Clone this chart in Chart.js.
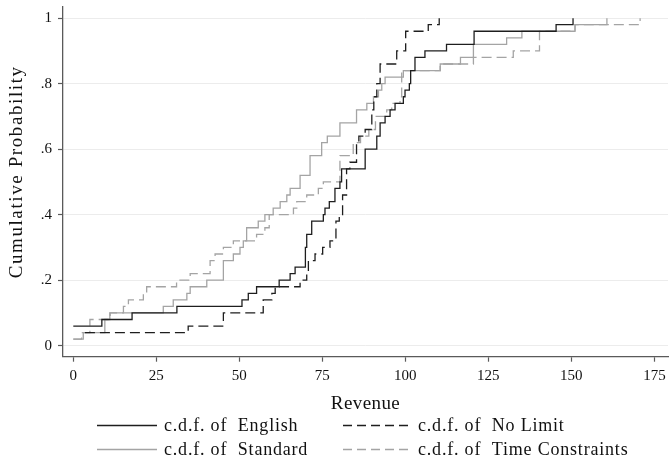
<!DOCTYPE html>
<html>
<head>
<meta charset="utf-8">
<script src="https://cdn.jsdelivr.net/npm/chart.js@4.4.1/dist/chart.umd.min.js"></script>
<style>
  html, body { margin: 0; padding: 0; background: #fff; }
  #wrap { width: 672px; height: 459px; }
</style>
</head>
<body>
<div id="wrap"><canvas id="c" width="672" height="459"></canvas></div>
<script>
// ---- Data (revenue at each jump, cumulative probability after the jump)
const englishX = [0, 8.6, 17.7, 31.2, 50.8, 52.7, 55.2, 62, 65.3, 66.8, 69.9, 70.3, 71.8, 75.3, 75.8, 77.1, 78.8, 80.3, 80.8, 87.9, 91.4, 92.4, 93.9, 95.4, 96.9, 99.4, 99.9, 101.2, 101.6, 102.9, 105.9, 112.4, 120.7, 145.4, 150.5];
const englishY = [0.06, 0.08, 0.10, 0.12, 0.14, 0.16, 0.18, 0.20, 0.22, 0.24, 0.30, 0.34, 0.38, 0.40, 0.42, 0.44, 0.48, 0.50, 0.54, 0.60, 0.64, 0.68, 0.70, 0.72, 0.74, 0.76, 0.78, 0.80, 0.84, 0.88, 0.90, 0.92, 0.96, 0.98, 1.00];

const noLimitX = [3.5, 34.6, 45.2, 57.2, 59.8, 60.8, 68.3, 70.3, 70.8, 72.8, 75.1, 77.3, 79.1, 80.1, 81.1, 82.3, 83.3, 85.3, 86.0, 87.9, 89.9, 90.5, 91.4, 92.4, 97.4, 100.1, 106.9, 110.2];
const noLimitY = [0.04, 0.06, 0.10, 0.14, 0.16, 0.18, 0.20, 0.22, 0.26, 0.28, 0.30, 0.32, 0.38, 0.40, 0.46, 0.54, 0.56, 0.62, 0.64, 0.66, 0.72, 0.76, 0.80, 0.86, 0.90, 0.96, 0.98, 1.00];

const standardX = [0, 3, 9.5, 11, 27.1, 30.1, 34.2, 35.2, 40.2, 45.2, 48.2, 50.2, 51.2, 52.2, 55.7, 57.7, 60.2, 62.3, 64.3, 65.3, 68.3, 71.3, 74.8, 76.5, 80.3, 85.3, 88.4, 90.4, 91.9, 92.9, 93.9, 99.4, 110.5, 116.6, 120.5, 130.5, 135.1, 151.1, 160.7];
const standardY = [0.02, 0.04, 0.08, 0.10, 0.12, 0.14, 0.16, 0.18, 0.20, 0.26, 0.28, 0.30, 0.32, 0.36, 0.38, 0.40, 0.42, 0.44, 0.46, 0.48, 0.52, 0.58, 0.62, 0.64, 0.68, 0.72, 0.74, 0.76, 0.78, 0.80, 0.82, 0.84, 0.86, 0.88, 0.92, 0.94, 0.96, 0.98, 1.00];

const timeX = [0, 2.5, 5, 11.1, 15.1, 16.6, 21.1, 22.1, 31.1, 35.2, 41.2, 42.7, 45.2, 48.2, 55.2, 57.7, 59, 66.3, 67.3, 70.3, 73.8, 75.3, 80.3, 84.3, 86.5, 89, 91, 94.4, 95.9, 98.4, 98.9, 110.5, 120.5, 132.5, 140.4, 151.1, 170.7];
const timeY = [0.02, 0.04, 0.08, 0.10, 0.12, 0.14, 0.16, 0.18, 0.20, 0.22, 0.26, 0.28, 0.30, 0.32, 0.34, 0.36, 0.40, 0.42, 0.44, 0.46, 0.48, 0.50, 0.58, 0.62, 0.64, 0.66, 0.70, 0.72, 0.74, 0.76, 0.84, 0.86, 0.88, 0.90, 0.96, 0.98, 1.00];

const seriesNames = ['c.d.f. of  English', 'c.d.f. of  No Limit', 'c.d.f. of  Standard', 'c.d.f. of  Time Constraints'];
const xTickValues = [0, 25, 50, 75, 100, 125, 150, 175];
const xTickLabels = ['0', '25', '50', '75', '100', '125', '150', '175'];
const yTickValues = [0, 0.2, 0.4, 0.6, 0.8, 1];
const yTickLabels = ['0', '.2', '.4', '.6', '.8', '1'];
const xTitle = 'Revenue';
const yTitle = 'Cumulative Probability';

// ---- Styles
const FONT = '"Liberation Serif", "DejaVu Serif", serif';
const DARK = '#1e1e1e';
const GREY = '#a4a4a4';
const AXIS = '#5a5a5a';

function pts(xs, ys) { return xs.map((x, i) => ({ x: x, y: ys[i] })); }

const datasets = [
  { label: seriesNames[0], data: pts(englishX, englishY), borderColor: DARK, borderDash: [] },
  { label: seriesNames[1], data: pts(noLimitX, noLimitY), borderColor: DARK, borderDash: [10, 5] },
  { label: seriesNames[2], data: pts(standardX, standardY), borderColor: GREY, borderDash: [] },
  { label: seriesNames[3], data: pts(timeX, timeY), borderColor: GREY, borderDash: [10, 5] }
].map(d => Object.assign(d, {
  stepped: 'before', pointRadius: 0, borderWidth: 1.3, fill: false, tension: 0
}));

// draw order: greys beneath darks
datasets[0].order = 1; datasets[1].order = 2; datasets[2].order = 4; datasets[3].order = 3;

// widen axis-title lettering (Computer-Modern-like spacing) and nudge the y title
const titleSpacingPlugin = {
  id: 'titleSpacing',
  afterLayout(chart) {
    [['x', '0.4px', 0], ['y', '1.6px', -10]].forEach(([id, sp, dy]) => {
      const s = chart.scales[id];
      if (!s || s._spacingPatched) return;
      const orig = s.drawTitle.bind(s);
      s.drawTitle = function () {
        const c = this.ctx;
        c.save();
        c.letterSpacing = sp;
        c.translate(0, dy);
        orig();
        c.restore();
      };
      s._spacingPatched = true;
    });
  }
};

const legendPlugin = {
  id: 'gridLegend',
  afterDraw(chart) {
    const ctx = chart.ctx;
    const rows = [425, 449];
    const cols = [{ s0: 97, s1: 157, tx: 164 }, { s0: 343, s1: 410, tx: 418 }];
    ctx.save();
    ctx.font = '18px ' + FONT;
    ctx.letterSpacing = '0.8px';
    ctx.textBaseline = 'middle';
    ctx.fillStyle = '#111';
    chart.data.datasets.forEach((ds, i) => {
      const r = rows[Math.floor(i / 2)];
      const c = cols[i % 2];
      ctx.beginPath();
      ctx.setLineDash(ds.borderDash && ds.borderDash.length ? [9, 5] : []);
      ctx.strokeStyle = ds.borderColor;
      ctx.lineWidth = 1.3;
      ctx.moveTo(c.s0, r + 0.5);
      ctx.lineTo(c.s1, r + 0.5);
      ctx.stroke();
      ctx.setLineDash([]);
      ctx.fillText(ds.label, c.tx, r + 1);
    });
    ctx.restore();
  }
};

new Chart(document.getElementById('c'), {
  type: 'line',
  data: { datasets: datasets },
  plugins: [titleSpacingPlugin, legendPlugin],
  options: {
    responsive: false,
    animation: false,
    devicePixelRatio: 1,
    layout: { padding: { left: 0, right: 4, top: 7, bottom: 43.6 } },
    plugins: { legend: { display: false }, tooltip: { enabled: false } },
    scales: {
      x: {
        type: 'linear',
        min: -3.1, max: 179.1,
        afterBuildTicks: (axis) => { axis.ticks = xTickValues.map(v => ({ value: v })); },
        afterFit: (scale) => { scale.height = 58.7; scale.paddingLeft = 0; scale.paddingRight = 0; },
        ticks: {
          callback: (v) => { const i = xTickValues.indexOf(v); return i >= 0 ? xTickLabels[i] : ''; },
          font: { family: FONT, size: 15 }, color: '#111', padding: 5, maxRotation: 0, autoSkip: false
        },
        grid: { drawOnChartArea: false, drawTicks: true, tickLength: 5, tickColor: AXIS, tickWidth: 1.2 },
        border: { display: true, color: AXIS, width: 1.3 },
        title: { display: true, text: xTitle, font: { family: FONT, size: 19 }, color: '#111', padding: { top: 0, bottom: 0 } }
      },
      y: {
        type: 'linear',
        min: -0.0336, max: 1.034,
        afterBuildTicks: (axis) => { axis.ticks = yTickValues.map(v => ({ value: v })); },
        afterFit: (scale) => { scale.width = 63; scale.paddingTop = 0; scale.paddingBottom = 0; },
        ticks: {
          callback: (v) => { const i = yTickValues.findIndex(t => Math.abs(t - v) < 1e-9); return i >= 0 ? yTickLabels[i] : ''; },
          font: { family: FONT, size: 15 }, color: '#111', padding: 6, autoSkip: false
        },
        grid: { drawOnChartArea: true, color: '#ececec', lineWidth: 1, drawTicks: true, tickLength: 5, tickColor: AXIS, tickWidth: 1.2 },
        border: { display: true, color: AXIS, width: 1.3 },
        title: { display: true, text: yTitle, font: { family: FONT, size: 19 }, color: '#111', padding: { top: 5.6, bottom: 0 } }
      }
    }
  }
});
</script>
</body>
</html>
